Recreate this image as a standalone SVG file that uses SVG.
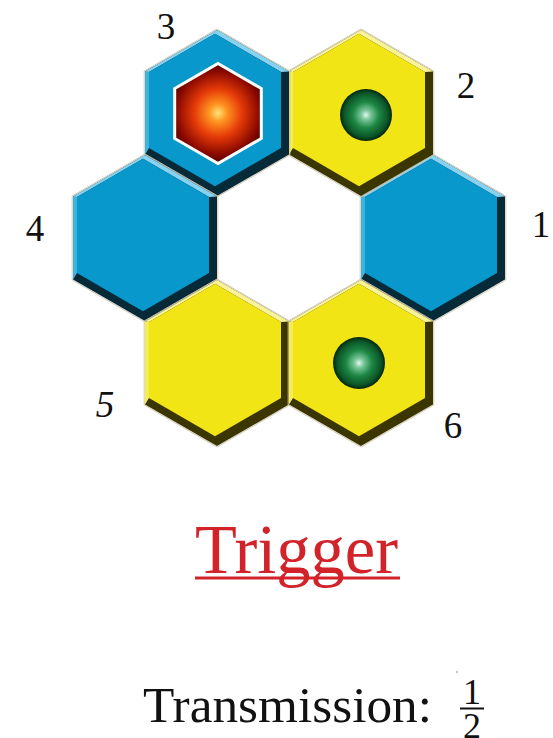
<svg xmlns="http://www.w3.org/2000/svg" xmlns:xlink="http://www.w3.org/1999/xlink" width="553" height="738" viewBox="0 0 553 738">
<style>
.serif{font-family:'Liberation Serif','Times New Roman',serif}
.lbl{font-size:37px;fill:#111;text-anchor:middle}
.bdark{fill:#062a37}.blight{fill:#86d2f0}.bmid{fill:#3fb2de}.bface{fill:#0898cc}
.ydark{fill:#3b3500}.ylight{fill:#faf39a}.ymid{fill:#f6ec50}.yface{fill:#f2e516}
.halo{fill:none;stroke:#cfc8b0;stroke-width:1}
</style>
<defs>
<radialGradient id="gRed" cx="218" cy="113" r="60" gradientUnits="userSpaceOnUse">
<stop offset="0" stop-color="#ffe27a"/>
<stop offset="0.15" stop-color="#ff9420"/>
<stop offset="0.4" stop-color="#e53a08"/>
<stop offset="0.7" stop-color="#860700"/>
<stop offset="1" stop-color="#140000"/>
</radialGradient>
<radialGradient id="gGreen" cx="0.5" cy="0.5" r="0.5">
<stop offset="0" stop-color="#e6f7ee"/>
<stop offset="0.18" stop-color="#7cc79a"/>
<stop offset="0.5" stop-color="#1d8744"/>
<stop offset="0.85" stop-color="#0b5426"/>
<stop offset="1" stop-color="#042410"/>
</radialGradient>
<g id="hexBlue">
<polygon class="halo" points="0,-84 72.8,-42 72.8,42 0,84 -72.8,42 -72.8,-42"/>
<polygon class="bdark" points="0,-83.1 72,-41.6 72,41.6 0,83.1 -72,41.6 -72,-41.6"/>
<polygon class="bmid" points="-72,41.6 -72,-41.6 -68,-41.1 -68,35.1"/>
<polygon class="blight" points="-72,-41.6 0,-83.1 72,-41.6 64,-41.1 -2,-79.2 -68,-41.1"/>
<polygon class="bface" points="-2,-79.2 64,-41.1 64,35.1 -2,73.2 -68,35.1 -68,-41.1"/>
</g>
<g id="hexYellow">
<polygon class="halo" points="0,-84 72.8,-42 72.8,42 0,84 -72.8,42 -72.8,-42"/>
<polygon class="ydark" points="0,-83.1 72,-41.6 72,41.6 0,83.1 -72,41.6 -72,-41.6"/>
<polygon class="ymid" points="-72,41.6 -72,-41.6 -68,-41.1 -68,35.1"/>
<polygon class="ylight" points="-72,-41.6 0,-83.1 72,-41.6 64,-41.1 -2,-79.2 -68,-41.1"/>
<polygon class="yface" points="-2,-79.2 64,-41.1 64,35.1 -2,73.2 -68,35.1 -68,-41.1"/>
</g>
</defs>
<rect width="553" height="738" fill="#ffffff"/>
<g id="node1"><use xlink:href="#hexBlue" x="433" y="238"/><text class="serif lbl" x="541" y="237">1</text></g>
<g id="node2"><use xlink:href="#hexYellow" x="361" y="113"/><circle cx="366" cy="115" r="26" fill="url(#gGreen)"/><text class="serif lbl" x="466" y="98">2</text></g>
<g id="node3"><use xlink:href="#hexBlue" x="217" y="113"/><polygon points="218,63.5 261.3,88.5 261.3,138.5 218,163.5 174.7,138.5 174.7,88.5" fill="url(#gRed)" stroke="#ffffff" stroke-width="3"/><text class="serif lbl" x="166" y="39">3</text></g>
<g id="node4"><use xlink:href="#hexBlue" x="145" y="238"/><text class="serif lbl" x="35" y="241">4</text></g>
<g id="node5"><use xlink:href="#hexYellow" x="217" y="363"/><text class="serif lbl" x="105" y="417" font-style="italic">5</text></g>
<g id="node6"><use xlink:href="#hexYellow" x="361" y="363"/><circle cx="359" cy="363" r="26" fill="url(#gGreen)"/><text class="serif lbl" x="453" y="438">6</text></g>
<g id="connectors"></g>
<g id="title">
<text class="serif" x="296.5" y="573" font-size="70" fill="#d2232b" text-anchor="middle" textLength="203" lengthAdjust="spacingAndGlyphs">Trigger</text>
<rect x="195" y="576.5" width="205" height="3" fill="#d2232b"/>
</g>
<g id="transmission" fill="#111">
<text class="serif" x="143" y="722" font-size="51" textLength="289" lengthAdjust="spacingAndGlyphs">Transmission:</text>
<text class="serif" x="472" y="704" font-size="36" text-anchor="middle">1</text>
<rect x="460" y="707.5" width="24" height="2"/>
<text class="serif" x="472" y="738" font-size="36" text-anchor="middle">2</text>
<rect x="456.5" y="671.5" width="1" height="1"/>
</g>
</svg>
